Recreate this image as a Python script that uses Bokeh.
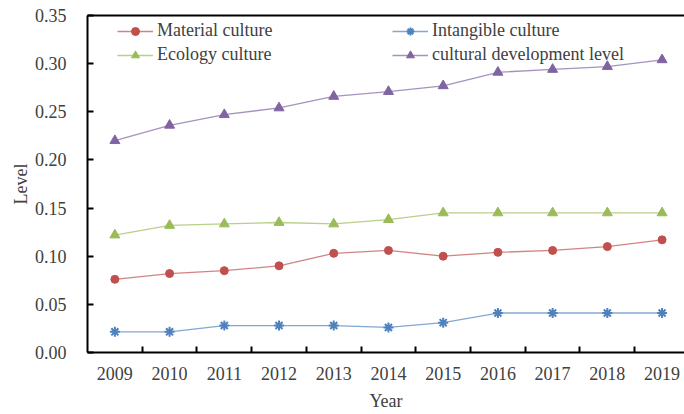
from bokeh.plotting import figure
from bokeh.models import FixedTicker, Legend, LegendItem, Range1d, CustomJSTickFormatter, NumeralTickFormatter, LinearAxis
from bokeh.embed import file_html
from bokeh.resources import INLINE

years = [2009, 2010, 2011, 2012, 2013, 2014, 2015, 2016, 2017, 2018, 2019]
material = [0.076, 0.082, 0.085, 0.090, 0.103, 0.106, 0.100, 0.104, 0.106, 0.110, 0.117]
intangible = [0.0215, 0.0215, 0.028, 0.028, 0.028, 0.026, 0.031, 0.041, 0.041, 0.041, 0.041]
ecology = [0.122, 0.132, 0.1335, 0.135, 0.1335, 0.138, 0.145, 0.145, 0.145, 0.145, 0.145]
cultural = [0.220, 0.236, 0.247, 0.254, 0.266, 0.271, 0.277, 0.291, 0.294, 0.297, 0.304]
y_ticks = [0.0, 0.05, 0.10, 0.15, 0.20, 0.25, 0.30, 0.35]

FONT = "Liberation Serif"
TXT = "#404040"

p = figure(width=684, height=414, output_backend="svg", toolbar_location=None,
           x_range=Range1d(2008.5, 2019.41), y_range=Range1d(0, 0.35),
           min_border_left=87, min_border_top=15, min_border_bottom=62, min_border_right=0)
p.grid.visible = False
p.outline_line_color = None

series = [
    ("Material culture", material, "#C0504D", "circle", 8),
    ("Intangible culture", intangible, "#4F81BD", "asterisk", 10),
    ("Ecology culture", ecology, "#9BBB59", "triangle", 10),
    ("cultural development level", cultural, "#8064A2", "triangle", 10),
]
items = []
for name, vals, col, mk, sz in series:
    ln = p.line(years, vals, line_color=col, line_width=1.3, line_alpha=0.7)
    if mk == "asterisk":
        sc = p.scatter(years, vals, marker="asterisk", size=sz, line_color=col, line_width=2)
    else:
        sc = p.scatter(years, vals, marker=mk, size=sz, fill_color=col, line_color=col)
    items.append(LegendItem(label=name, renderers=[ln, sc]))

def mk_legend(its, x, y):
    lg = Legend(items=its, location=(x, y), orientation="vertical",
                padding=0, margin=0, spacing=3, glyph_width=36, glyph_height=20,
                label_height=20, label_standoff=4, border_line_color=None,
                background_fill_alpha=0, label_text_font=FONT,
                label_text_font_size="18px", label_text_color=TXT)
    p.add_layout(lg, "center")

mk_legend([items[0], items[2]], 30, 287)
mk_legend([items[1], items[3]], 305, 287)

xa = p.below[0]
ya = p.left[0]

for ax in (xa, ya):
    ax.axis_line_width = 2
    ax.axis_line_color = "black"
    ax.major_tick_line_width = 2
    ax.major_tick_line_color = "black"
    ax.minor_tick_line_width = 2
    ax.minor_tick_line_color = "black"
    ax.major_label_text_font = FONT
    ax.major_label_text_font_size = "18px"
    ax.major_label_text_color = TXT
    ax.axis_label_text_font = FONT
    ax.axis_label_text_font_size = "18px"
    ax.axis_label_text_color = TXT
    ax.axis_label_text_font_style = "normal"

xa.ticker = FixedTicker(ticks=years, minor_ticks=[y + 0.5 for y in years[:-1]])
xa.formatter = CustomJSTickFormatter(code="return tick.toFixed(0);")
xa.major_tick_in = 0
xa.major_tick_out = 0
xa.minor_tick_in = 6
xa.minor_tick_out = 0
xa.major_label_standoff = 14
xa.axis_label = "Year"
xa.axis_label_standoff = 8

ya.ticker = FixedTicker(ticks=y_ticks, minor_ticks=[])
ya.formatter = NumeralTickFormatter(format="0.00")
ya.major_tick_in = 6
ya.major_tick_out = 0
ya.minor_tick_in = 0
ya.minor_tick_out = 0
ya.major_label_standoff = 21
ya.axis_label = "Level"
ya.axis_label_standoff = 1

# top frame line (no right border, as the reference is clipped there)
top = LinearAxis(ticker=FixedTicker(ticks=[], minor_ticks=[]),
                 axis_line_width=2, axis_line_color="black",
                 major_tick_in=0, major_tick_out=0, minor_tick_in=0, minor_tick_out=0,
                 major_label_standoff=0)
p.add_layout(top, "above")

open("out.html", "w").write(file_html(p, INLINE))
